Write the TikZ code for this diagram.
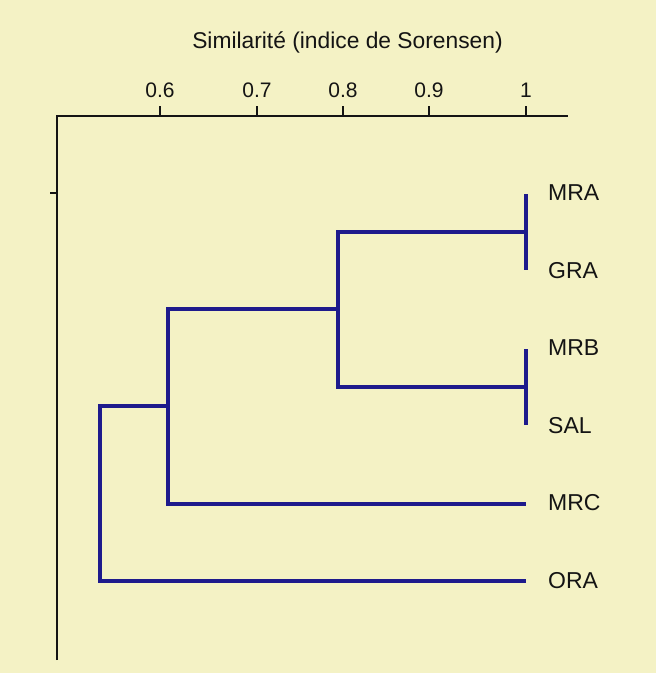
\documentclass[tikz,border=0pt]{standalone}
\usepackage{fontspec}
\setmainfont{Liberation Sans}
\definecolor{bg}{HTML}{F4F2C5}
\definecolor{dend}{HTML}{1E1B8C}
\definecolor{ink}{HTML}{141414}
\begin{document}
\begin{tikzpicture}[x=1pt,y=-1pt,
  lbl/.style={font=\fontsize{21}{24}\selectfont, text=ink, inner sep=0pt},
  leaf/.style={lbl, font=\fontsize{23}{26}\selectfont, anchor=west},
  ticklbl/.style={lbl, anchor=base},
  branch/.style={draw=dend, line width=4pt, line join=miter},
  axis/.style={draw=ink, line width=2pt, line join=miter},
  axtick/.style={draw=ink, line width=1.5pt}]
  \fill[bg] (0,0) rectangle (656,673);
  \useasboundingbox (0,0) rectangle (656,673);
  % title
  \node[lbl, font=\fontsize{22.8}{26}\selectfont, anchor=base] (title) at (347.5,48) {Similarité (indice de Sorensen)};
  % axis
  \coordinate (ax0) at (57,660);
  \coordinate (axc) at (57,116);
  \coordinate (ax1) at (568,116);
  \draw[axis] (ax0) -- (axc) -- (ax1);
  \coordinate (yt0) at (50,193);
  \coordinate (yt1) at (57,193);
  \draw[axtick] (yt0) -- (yt1);
  \foreach \x/\l/\n in {160/0.6/a,257/0.7/b,343/0.8/c,429/0.9/d,526/1/e}{
    \coordinate (tb\n) at (\x,116);
    \coordinate (tt\n) at (\x,106);
    \draw[axtick] (tb\n) -- (tt\n);
    \node[ticklbl] (tl\n) at (\x,97) {\l};
  }
  % leaves
  \node[leaf] (MRA) at (548,193) {MRA};
  \node[leaf] (GRA) at (548,271) {GRA};
  \node[leaf] (MRB) at (548,348) {MRB};
  \node[leaf] (SAL) at (548,426) {SAL};
  \node[leaf] (MRC) at (548,503) {MRC};
  \node[leaf] (ORA) at (548,581) {ORA};
  \coordinate (tMRA) at (526,194);
  \coordinate (tGRA) at (526,270);
  \coordinate (tMRB) at (526,349);
  \coordinate (tSAL) at (526,425);
  \coordinate (tMRC) at (526,504);
  \coordinate (tORA) at (526,581);
  \coordinate (j1) at (526,232);
  \coordinate (j2) at (526,387);
  \coordinate (k1) at (338,232);
  \coordinate (k2) at (338,387);
  \coordinate (k12) at (338,309);
  \coordinate (m1) at (168,309);
  \coordinate (mm) at (168,406);
  \coordinate (n1) at (100,406);
  % dendrogram
  \draw[branch] (tMRA) -- (tGRA);
  \draw[branch] (tMRB) -- (tSAL);
  \draw[branch] (j1) -- (k1) -- (k2) -- (j2);
  \draw[branch] (k12) -- (m1) |- (tMRC);
  \draw[branch] (mm) -- (n1) |- (tORA);
\end{tikzpicture}
\end{document}
